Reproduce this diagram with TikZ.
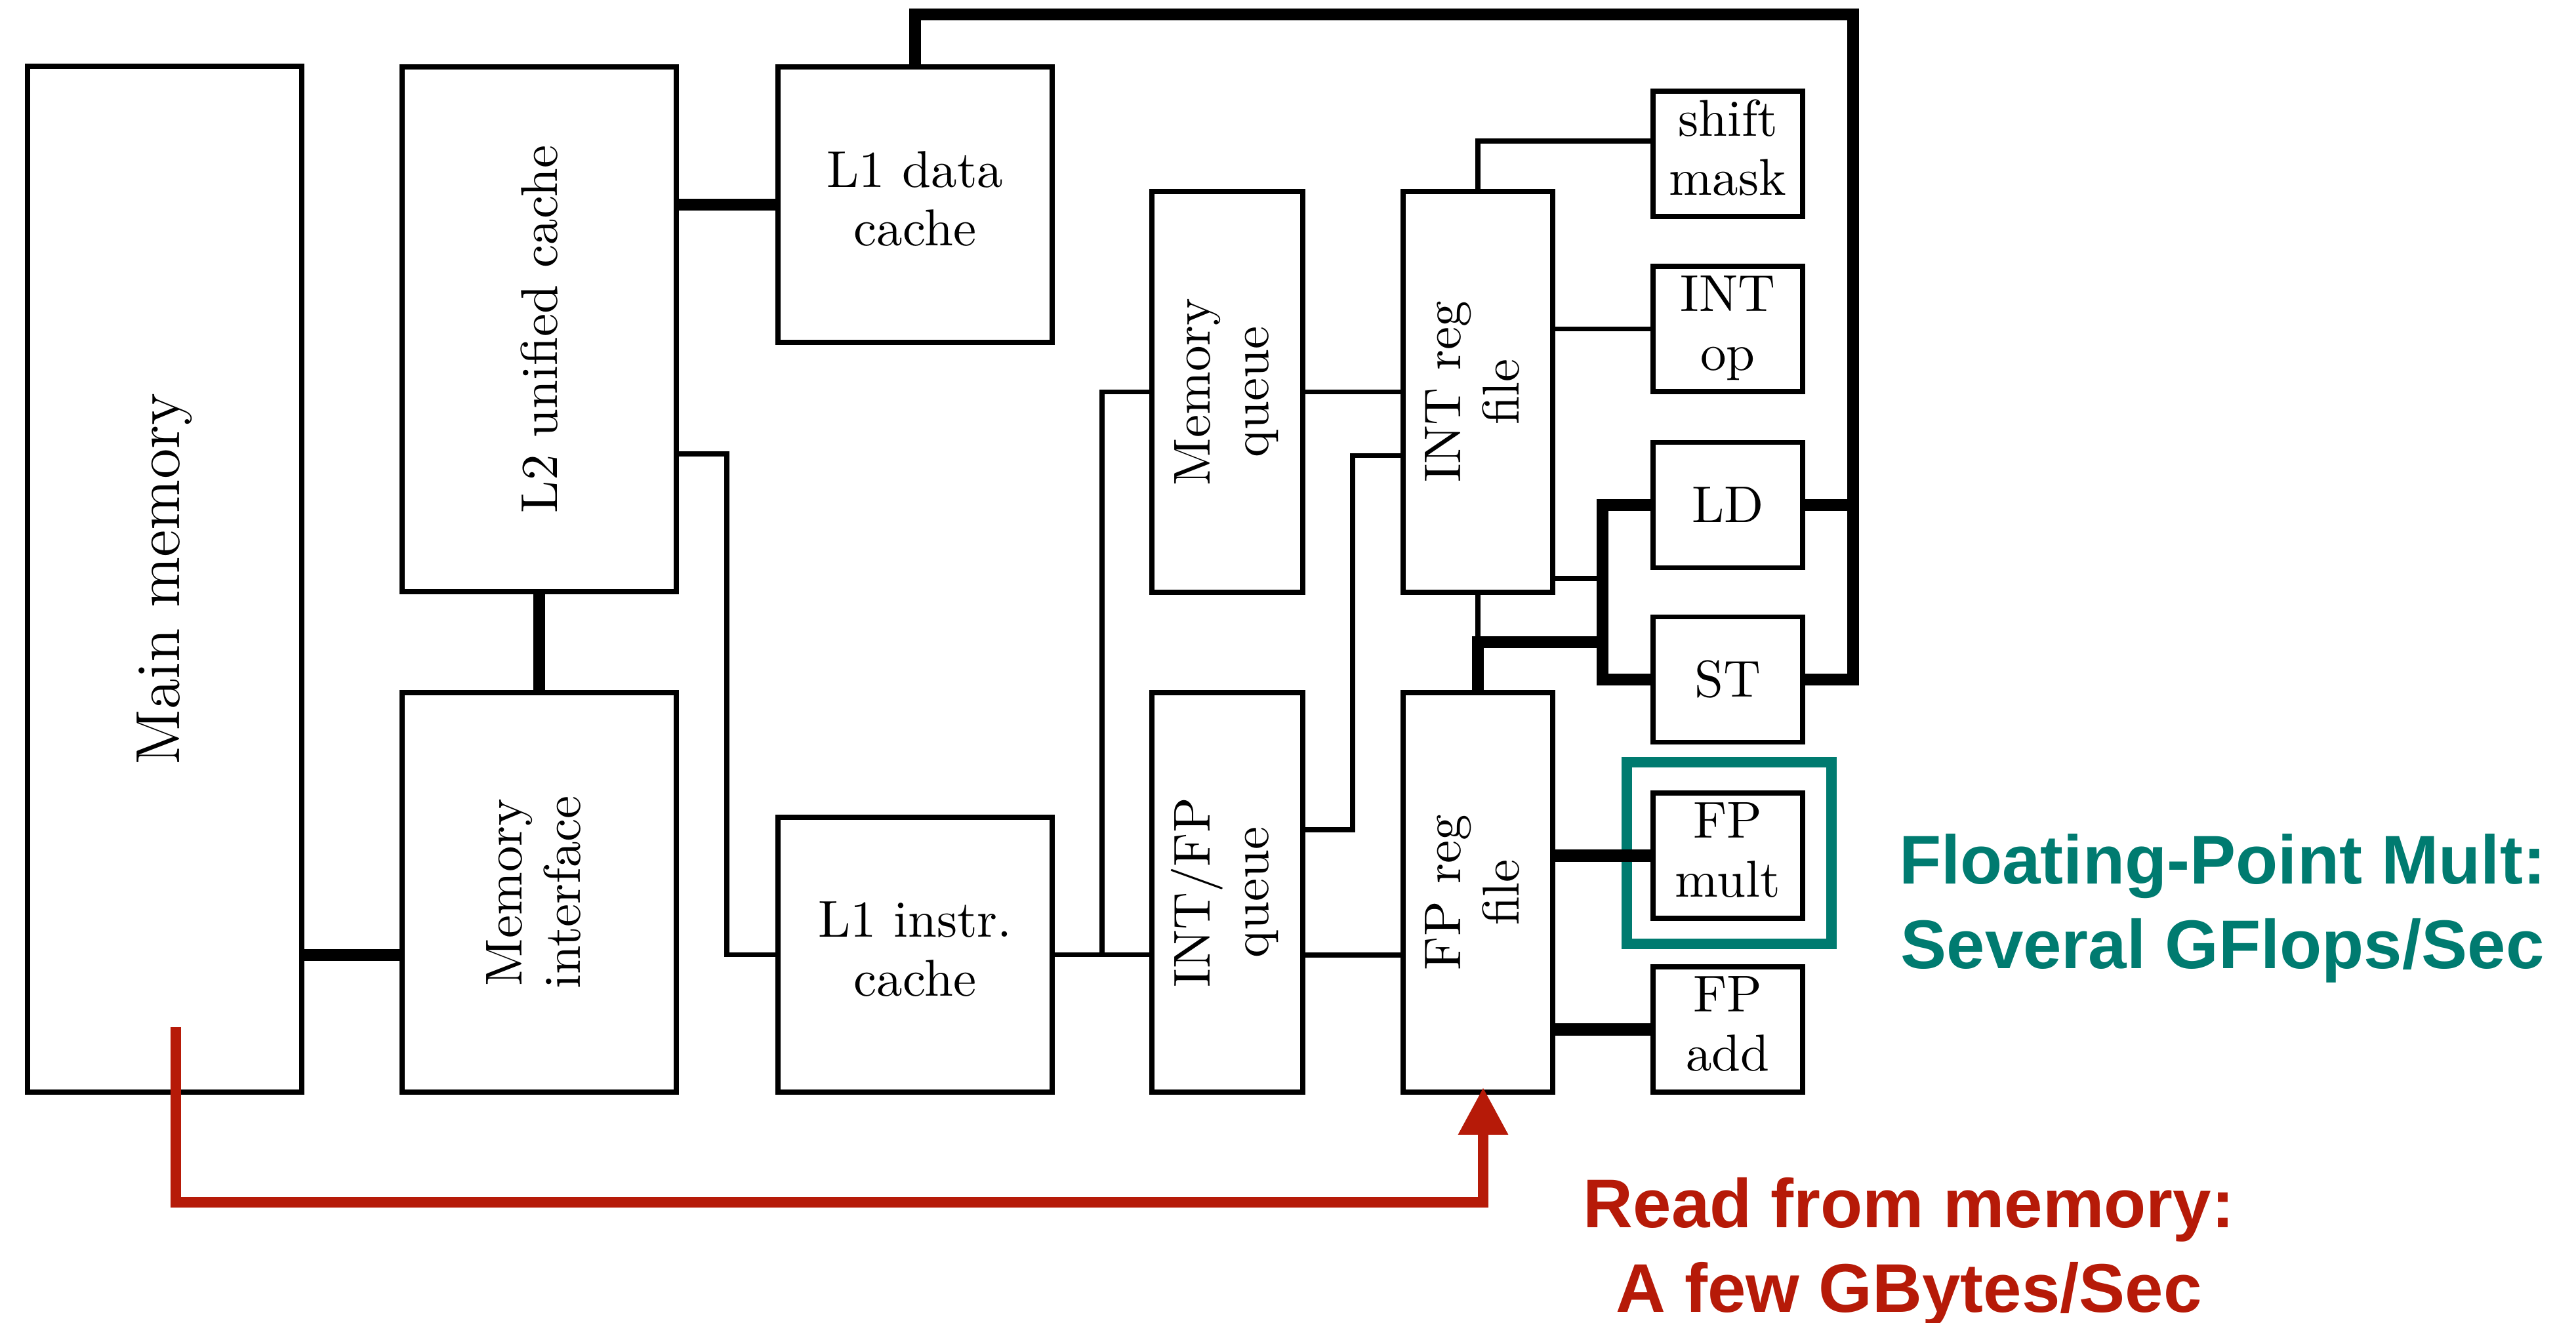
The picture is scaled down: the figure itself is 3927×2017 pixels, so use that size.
\documentclass[tikz,border=0pt]{standalone}
\usepackage{fontspec}
\usetikzlibrary{arrows.meta}
\newfontfamily\hfont{Liberation Sans}
\definecolor{myred}{RGB}{182,26,8}
\definecolor{myteal}{RGB}{0,123,112}
\def\pxu{0.1266pt}
\def\arraystretch{0.97}
\newcommand{\twoline}[2]{\begin{tabular}{@{}c@{}}#1\\#2\end{tabular}}
\newcommand{\rtwoline}[2]{\rotatebox{90}{\twoline{#1}{#2}}}
\tikzset{
  box/.style={draw, line width=1pt, rectangle, inner sep=0pt, font=\fontsize{10}{11.7}\selectfont},
  bx/.style 2 args={minimum width=#1*\pxu, minimum height=#2*\pxu},
  thinline/.style={line width=1pt},
  thickline/.style={line width=2.3pt},
  redline/.style={line width=2pt, draw=myred, -{Triangle[length=72*\pxu, width=72*\pxu]}},
  hilite/.style={draw=myteal, line width=2.1pt, rectangle, inner sep=0pt},
  bigtext/.style={align=center, inner sep=0pt, font=\hfont\bfseries\fontsize{13.3}{16.4}\selectfont}
}
\begin{document}
\begin{tikzpicture}[x=0.1266pt, y=-0.1266pt]
\useasboundingbox (0,0) rectangle (3927,2017);
% boxes
\node[box, bx={418}{1564}] (mainmem) at (251,883) {\rotatebox{90}{\fontsize{12}{14}\selectfont Main memory}};
\node[box, bx={418}{800}] (l2) at (822,502) {\rotatebox{90}{L2 unified cache}};
\node[box, bx={418}{609}] (memif) at (822,1360.5) {\rtwoline{Memory}{interface}};
\node[box, bx={418}{420}] (l1d) at (1395,312) {\twoline{L1 data}{cache}};
\node[box, bx={418}{419}] (l1i) at (1395,1455.5) {\twoline{L1 instr.}{cache}};
\node[box, bx={230}{611}] (mq) at (1871,597.5) {\rtwoline{Memory}{queue}};
\node[box, bx={230}{609}] (ifq) at (1871,1360.5) {\rtwoline{INT/FP}{queue}};
\node[box, bx={228}{611}] (intreg) at (2253,597.5) {\rtwoline{INT reg}{file}};
\node[box, bx={228}{609}] (fpreg) at (2253,1360.5) {\rtwoline{FP reg}{file}};
\node[box, bx={228}{191}] (shift) at (2634,234.5) {\twoline{shift}{mask}};
\node[box, bx={228}{191}] (intop) at (2634,501.5) {\twoline{INT}{op}};
\node[box, bx={228}{191}] (ld) at (2634,770) {LD};
\node[box, bx={228}{191}] (st) at (2634,1036) {ST};
\node[box, bx={228}{191}] (fpmult) at (2634,1304.5) {\twoline{FP}{mult}};
\node[box, bx={228}{191}] (fpadd) at (2634,1569.5) {\twoline{FP}{add}};
\node[hilite, bx={312}{277}] (hl) at (2636,1300.5) {};
% coordinates
\coordinate (ne) at (2825,22);
\coordinate (jl) at (1108,692);
\coordinate (jq) at (1680,1456);
\coordinate (ji) at (2062,1265);
\coordinate (jr) at (2443,882);
\coordinate (jf) at (2253,979);
\coordinate (rs) at (268,1566);
\coordinate (rc) at (2261,1833);
% thick connectors
\draw[thickline] (mainmem.east |- 0,1456) -- (memif.west |- 0,1456);
\draw[thickline] (l2.south) -- (memif.north);
\draw[thickline] (l2.east |- l1d.west) -- (l1d.west);
\draw[thickline] (l1d.north) |- (ne) |- (st.east);
\draw[thickline] (ld.east) -- (ld.east -| ne);
\draw[thickline] (ld.west) -- (ld.west -| jr) |- (st.west);
\draw[thickline] (jf -| jr) -- (jf) -- (fpreg.north);
\draw[thickline] (fpreg.east |- fpmult.west) -- (fpmult.west);
\draw[thickline] (fpreg.east |- fpadd.west) -- (fpadd.west);
% thin connectors
\draw[thinline] (l2.east |- jl) -- (jl) |- (l1i.west);
\draw[thinline] (l1i.east) -- (ifq.west |- l1i.east);
\draw[thinline] (jq) |- (mq.west);
\draw[thinline] (mq.east) -- (intreg.west);
\draw[thinline] (ifq.east |- ji) -- (ji) |- (intreg.west |- 0,694.5);
\draw[thinline] (ifq.east |- jq) -- (fpreg.west |- jq);
\draw[thinline] (intreg.north) |- (shift.west |- 0,215);
\draw[thinline] (intreg.east |- intop.west) -- (intop.west);
\draw[thinline] (intreg.east |- jr) -- (jr);
\draw[thinline] (intreg.south) -- (jf);
% red arrow
\draw[redline, shorten >=-1.4pt] (rs) |- (rc) -- (rc |- fpreg.south);
% texts
\node[bigtext, text=myteal] (fptext) at (3388,1385) {Floating-Point Mult:\\Several GFlops/Sec};
\node[bigtext, text=myred] (rdtext) at (2910,1909) {Read from memory:\\A few GBytes/Sec};
\end{tikzpicture}
\end{document}
